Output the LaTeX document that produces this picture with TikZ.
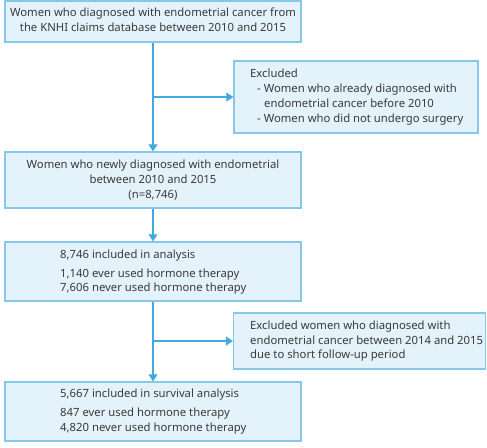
\documentclass[tikz,border=0pt]{standalone}
\usepackage{fontspec}
\setmainfont{Noto Sans}
\usetikzlibrary{arrows.meta}
\definecolor{boxfill}{HTML}{E4F2FB}
\definecolor{boxdraw}{HTML}{86C8EA}
\definecolor{arr}{HTML}{45A9DE}
\definecolor{txt}{HTML}{3A3A3A}
\begin{document}
\begin{tikzpicture}[x=1pt,y=-1pt,
  box/.style={draw=boxdraw,fill=boxfill,line width=1.2pt,rectangle,inner sep=0pt},
  tx/.style={text=txt,font=\fontsize{11.3}{15}\selectfont,inner sep=0pt},
  lc/.style={tx,anchor=mid},
  ll/.style={tx,anchor=mid west},
  conn/.style={draw=arr,line width=1.1pt},
  tip/.style={-{Triangle[width=9pt,length=7pt]}}]
\useasboundingbox (0,0) rectangle (487,447);
% boxes
\node[box,minimum width=296pt,minimum height=41pt] (b1) at (153,21.5) {};
\node[box,minimum width=244pt,minimum height=72pt] (b2) at (356,97) {};
\node[box,minimum width=296pt,minimum height=56pt] (b3) at (153,180) {};
\node[box,minimum width=296pt,minimum height=59pt] (b4) at (153,271.5) {};
\node[box,minimum width=252pt,minimum height=56pt] (b5) at (359.5,341) {};
\node[box,minimum width=296pt,minimum height=59pt] (b6) at (153,411.5) {};
% texts
\node[lc] (t1a) at (153,14) {Women who diagnosed with endometrial cancer from};
\node[lc] (t1b) at (153,28.5) {the KNHI claims database between 2010 and 2015};
\node[ll] (t2a) at (250,74.5) {Excluded};
\node[ll] (t2b) at (257,90) {- Women who already diagnosed with};
\node[ll] (t2c) at (264,105) {endometrial cancer before 2010};
\node[ll] (t2d) at (257,120) {- Women who did not undergo surgery};
\node[lc] (t3a) at (153,166) {Women who newly diagnosed with endometrial};
\node[lc] (t3b) at (153,181) {between 2010 and 2015};
\node[lc] (t3c) at (153,196) {(n=8,746)};
\node[ll] (t4a) at (60,255.5) {8,746 included in analysis};
\node[ll] (t4b) at (60,274.5) {1,140 ever used hormone therapy};
\node[ll] (t4c) at (60,289) {7,606 never used hormone therapy};
\node[ll] (t5a) at (250,326.5) {Excluded women who diagnosed with};
\node[ll] (t5b) at (250,341.5) {endometrial cancer between 2014 and 2015};
\node[ll] (t5c) at (250,356) {due to short follow-up period};
\node[ll] (t6a) at (60,394.5) {5,667 included in survival analysis};
\node[ll] (t6b) at (60,413.5) {847 ever used hormone therapy};
\node[ll] (t6c) at (60,428.5) {4,820 never used hormone therapy};
% connectors
\coordinate (j1) at (153,97);
\coordinate (j2) at (153,341);
\draw[conn,tip] (b1.south) -- (b3.north);
\draw[conn,tip] (j1) -- (b2.west);
\draw[conn,tip] (b3.south) -- (b4.north);
\draw[conn,tip] (b4.south) -- (b6.north);
\draw[conn,tip] (j2) -- (b5.west);
\end{tikzpicture}
\end{document}
